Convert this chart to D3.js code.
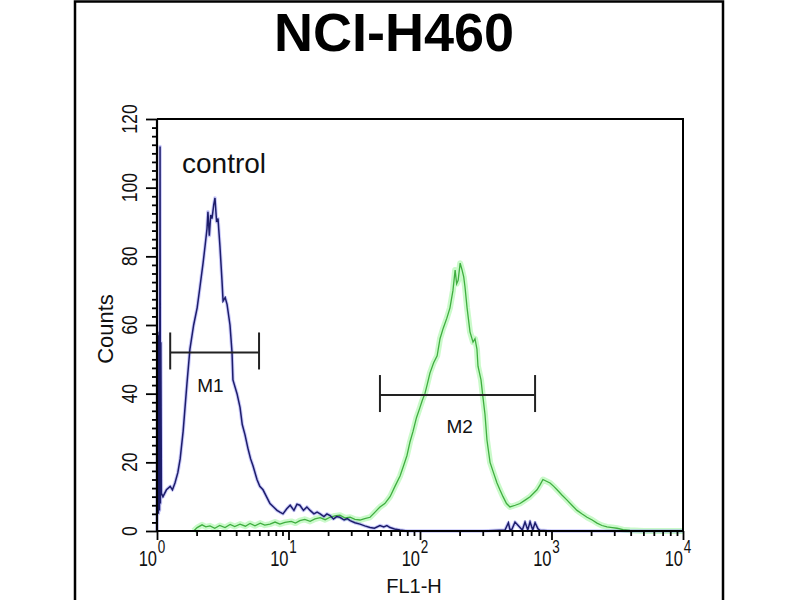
<!DOCTYPE html>
<html><head><meta charset="utf-8">
<script src="https://cdn.jsdelivr.net/npm/d3@7"></script>
<style>body{margin:0;background:#fff}text{font-family:"Liberation Sans",Arial,sans-serif}</style>
</head><body>
<svg id="c" width="800" height="600"></svg>
<script>
const title = "NCI-H460";
const xLabel = "FL1-H";
const yLabel = "Counts";
const seriesLabel = "control";
const xTickValues = [1, 10, 100, 1000, 10000];
const xTickExponents = ["0", "1", "2", "3", "4"];
const yTickValues = [0, 20, 40, 60, 80, 100, 120];

// control (blue) histogram: FL1-H channel value and counts
const controlFL = [1.0, 1.015, 1.025, 1.035, 1.045, 1.055, 1.062, 1.07, 1.08, 1.11, 1.18, 1.26, 1.31, 1.37, 1.44, 1.50, 1.58, 1.69, 1.78, 1.90, 2.02, 2.12, 2.24, 2.32, 2.40, 2.44, 2.50, 2.56, 2.62, 2.70, 2.76, 2.84, 2.91, 3.01, 3.12, 3.18, 3.30, 3.41, 3.59, 3.72, 3.78, 4.06, 4.28, 4.45, 4.67, 4.92, 5.15, 5.37, 5.76, 6.05, 6.40, 6.8, 7.23, 7.7, 8.18, 8.6, 9.08, 9.7, 10.3, 11.0, 11.6, 12.2, 13.0, 13.8, 14.6, 15.6, 16.5, 17.4, 18.6, 19.6, 20.7, 22.0, 23.2, 24.6, 26.5, 28.0, 29.4, 32.0, 35.0, 38.0, 41.7, 45.0, 49.6, 53.0, 56.0, 59.2, 64.0, 70.5, 80, 150, 300, 443, 470, 483, 500, 528, 600, 629, 660, 687, 720, 750, 790, 818, 1000, 3000, 10000];
const controlCounts = [0, 58, 5, 57, 6, 112, 8, 55, 11, 10, 12, 13, 12, 14, 17, 21, 29, 43, 53, 60, 65, 71, 78, 83, 88, 93, 86, 92, 91, 95, 97, 90, 91, 83, 73, 67, 68, 66, 60, 52, 44, 40, 36, 31, 28, 24, 21, 19, 15, 13, 12, 10, 8, 7, 6, 5.5, 5, 6.5, 7.5, 6, 7.8, 7.5, 6, 7, 6, 5, 5.5, 5, 4.2, 5, 4.5, 3.5, 4.2, 4, 3.2, 3.6, 3, 2.4, 2, 1.5, 1, 0.8, 1.6, 1.2, 1.6, 1, 0.6, 0.3, 0, 0, 0, 0.3, 2.4, 0.4, 0.5, 2.6, 0.3, 2.6, 0.3, 2.7, 0.3, 2.4, 0.6, 0.2, 0, 0, 0];

// sample (green) histogram
const sampleFL = [1.9, 2.02, 2.2, 2.35, 2.53, 2.75, 3.0, 3.29, 3.6, 3.9, 4.28, 4.7, 5.1, 5.56, 6.1, 6.6, 7.23, 7.9, 8.6, 9.4, 10.5, 11.3, 12.2, 13.3, 14.6, 15.9, 17.4, 19.0, 20.7, 22.5, 24.6, 27.0, 29.4, 32.0, 35.0, 38.0, 41.7, 45.5, 49.6, 54.0, 59.2, 64.5, 70.5, 75.0, 79.6, 84.0, 88.5, 94.0, 100, 104, 109, 114, 119, 127, 135, 142, 150, 160, 169, 178, 185, 190, 195, 202, 209, 215, 220, 228, 240, 253, 262, 271, 276, 291, 301, 312, 323, 341, 362, 385, 405, 428, 455, 483, 530, 576, 630, 687, 730, 776, 820, 861, 915, 975, 1040, 1102, 1200, 1313, 1430, 1563, 1700, 1862, 2040, 2218, 2420, 2642, 2900, 3148, 3500, 3955, 5000, 10000];
const sampleCounts = [0, 1, 1.8, 1.2, 1.5, 0.8, 1.6, 1, 1.9, 1.3, 2, 1.4, 2.2, 1.5, 2.3, 1.7, 2, 2.6, 2, 2.5, 2.8, 2.3, 3, 3.4, 2.8, 3.5, 3.9, 3.3, 4, 4.4, 4.6, 3.8, 4, 3.4, 3.2, 3.6, 4, 5.5, 7, 8, 10, 13, 16, 19, 22, 26, 29, 33, 36, 38, 40, 43, 46, 49, 51, 56, 59, 62, 65, 70, 76, 72, 73, 78, 76, 74, 71, 65, 58, 55, 56, 53, 48, 44, 39, 34, 26.5, 20, 17, 14, 12, 10, 8, 7, 7.5, 8, 9, 10, 11, 12, 13.5, 15, 14.5, 14, 13, 12, 10.5, 9, 7.5, 6, 5, 4, 3.2, 2.3, 1.6, 1.2, 1, 0.8, 0.4, 0.2, 0, 0];

const markerNames = ["M1", "M2"];
const markerStart = [1.26, 49.6];
const markerEnd = [5.97, 750];
const markerLevel = [52, 39.6];
const markerLabelX = [2.55, 200];
const markerLabelY = [40.5, 28.5];

const svg = d3.select("#c");
const L = 157, R = 683, T = 119, B = 531;

// outer frame
svg.append("path").attr("d", "M75,601 V1.5 H723 V601").attr("fill", "none").attr("stroke", "#000").attr("stroke-width", 2.5);

const x = d3.scaleLog().domain([1, 10000]).range([L, R]);
const y = d3.scaleLinear().domain([0, 120]).range([B, T]);

// title
svg.append("text").attr("x", 394).attr("y", 51).attr("text-anchor", "middle")
  .attr("font-size", 54).attr("font-weight", "bold").text(title);

// curves
const lineC = d3.line().x((d, i) => x(controlFL[i])).y((d) => y(d));
const lineS = d3.line().x((d, i) => x(sampleFL[i])).y((d) => y(d));
const plot = svg.append("g");
plot.append("path").attr("d", lineS(sampleCounts)).attr("fill", "none")
  .attr("stroke", "#9ef59e").attr("stroke-width", 6).attr("stroke-opacity", 0.55).attr("stroke-linejoin", "round");
plot.append("path").attr("d", lineC(controlCounts)).attr("fill", "none")
  .attr("stroke", "#8a8af5").attr("stroke-width", 3.5).attr("stroke-opacity", 0.45).attr("stroke-linejoin", "round");
plot.append("path").attr("d", lineS(sampleCounts)).attr("fill", "none")
  .attr("stroke", "#3fae3f").attr("stroke-width", 1.3);
plot.append("path").attr("d", lineC(controlCounts)).attr("fill", "none")
  .attr("stroke", "#1d1d6b").attr("stroke-width", 1.5);

// plot frame top & right
svg.append("path").attr("d", `M${L},${T} H${R} V${B}`).attr("fill", "none").attr("stroke", "#000").attr("stroke-width", 2);

// axes
const minorY = d3.range(0, 120.01, 2.5).filter(v => v % 20 !== 0);
const yMajor = svg.append("g").attr("transform", `translate(${L},0)`)
  .call(d3.axisLeft(y).tickValues(yTickValues).tickSize(11).tickFormat(""));
const yMinor = svg.append("g").attr("transform", `translate(${L},0)`)
  .call(d3.axisLeft(y).tickValues(minorY).tickSize(5).tickFormat(""));
const minorX = [];
for (let d = 1; d < 10000; d *= 10) for (let k = 2; k < 10; k++) minorX.push(d * k);
const xMajor = svg.append("g").attr("transform", `translate(0,${B})`)
  .call(d3.axisBottom(x).tickValues(xTickValues).tickSize(9).tickFormat(""));
const xMinor = svg.append("g").attr("transform", `translate(0,${B})`)
  .call(d3.axisBottom(x).tickValues(minorX).tickSize(5).tickFormat(""));
svg.selectAll(".domain").attr("stroke-width", 2.2).attr("stroke", "#000");
svg.selectAll(".tick line").attr("stroke-width", 1.8).attr("stroke", "#000");
yMinor.select(".domain").remove(); xMinor.select(".domain").remove();
xMajor.select(".domain").attr("d", `M${L},0H${R}`);
yMajor.select(".domain").attr("d", `M0,${B}V${T}`);

// y tick labels (rotated, narrow)
yTickValues.forEach(v => {
  svg.append("text").attr("transform", `translate(137,${y(v)}) rotate(-90) scale(0.8,1)`)
    .attr("text-anchor", "middle").attr("font-size", 22).attr("fill", "#111").text(v);
});
// x tick labels with superscript exponents
xTickValues.forEach((v, i) => {
  const g = svg.append("g").attr("transform", `translate(${x(v)},566) scale(0.75,1)`);
  g.append("text").attr("x", 0).attr("y", 0).attr("text-anchor", "end").attr("font-size", 22).attr("fill", "#111").text("10");
  g.append("text").attr("x", 1).attr("y", -13).attr("text-anchor", "start").attr("font-size", 18).attr("fill", "#111").text(xTickExponents[i]);
});

// axis titles
svg.append("text").attr("x", 414).attr("y", 593).attr("text-anchor", "middle").attr("font-size", 20).attr("fill", "#111").text(xLabel);
svg.append("text").attr("transform", `translate(113,329) rotate(-90)`).attr("text-anchor", "middle").attr("font-size", 22).attr("fill", "#111").text(yLabel);

// series label
svg.append("text").attr("x", 182).attr("y", 173).attr("font-size", 28).attr("fill", "#111").text(seriesLabel);

// markers
markerNames.forEach((m, i) => {
  const g = svg.append("g").attr("stroke", "#222").attr("stroke-width", 2);
  const x0 = x(markerStart[i]), x1 = x(markerEnd[i]), yy = y(markerLevel[i]);
  g.append("line").attr("x1", x0).attr("x2", x1).attr("y1", yy).attr("y2", yy);
  g.append("line").attr("x1", x0).attr("x2", x0).attr("y1", yy - 20).attr("y2", yy + 17);
  g.append("line").attr("x1", x1).attr("x2", x1).attr("y1", yy - 20).attr("y2", yy + 17);
  svg.append("text").attr("x", x(markerLabelX[i])).attr("y", y(markerLabelY[i]))
    .attr("text-anchor", "middle").attr("font-size", 19).attr("fill", "#111").text(m);
});
</script>
</body></html>
